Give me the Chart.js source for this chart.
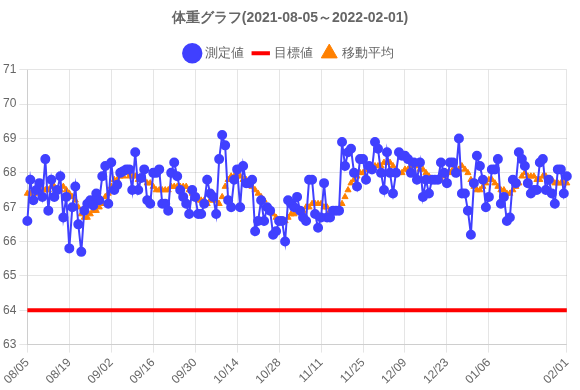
<!DOCTYPE html>
<html>
<head>
<meta charset="utf-8">
<script src="https://cdn.jsdelivr.net/npm/chart.js@4/dist/chart.umd.min.js"></script>
<style>
  body { margin: 0; background: #fff; }
  #wrap { width: 580px; height: 390px; }
</style>
</head>
<body>
<div id="wrap"><canvas id="myChart"></canvas></div>
<script>
// period of the graph
const startDate = '2021-08-05';
const endDate = '2022-02-01';

const measured = [
	66.6, 67.8, 67.2, 67.5, 67.7, 67.3, 68.4, 66.9, 67.8, 67.3,
	67.5, 67.9, 66.7, 67.3, 65.8, 67.0, 67.6, 66.5, 65.7, 66.9,
	67.1, 67.2, 67.05, 67.4, 67.2, 67.9, 68.2, 67.1, 68.3, 67.5,
	67.65, 68.0, 68.05, 68.1, 68.1, 67.5, 68.6, 67.5, 67.85, 68.1,
	67.2, 67.1, 68.0, 68.0, 68.1, 67.1, 67.1, 66.9, 68.0, 68.3,
	67.9, 67.5, 67.3, 67.1, 66.8, 67.5, 67.3, 66.8, 66.8, 67.1,
	67.8, 67.4, 67.3, 66.8, 68.4, 69.1, 68.8, 67.2, 67.0, 67.8,
	68.1, 67.0, 68.2, 67.7, 67.7, 67.8, 66.3, 66.6, 67.2, 66.6,
	67.0, 66.9, 66.2, 66.3, 66.6, 66.6, 66.0, 67.2, 67.1, 67.0,
	67.3, 66.9, 66.7, 66.6, 67.8, 67.8, 66.8, 66.4, 66.7, 67.7,
	66.7, 66.7, 66.9, 66.9, 66.9, 68.9, 68.2, 68.6, 68.7, 68.0,
	67.6, 68.4, 68.4, 67.8, 68.2, 68.1, 68.9, 68.7, 68.0, 67.5,
	68.6, 68.0, 67.4, 68.0, 68.6, 68.5, 68.5, 68.4, 68.0, 68.3,
	67.8, 68.3, 67.3, 67.8, 67.4, 67.8, 67.8, 67.8, 68.3, 68.0,
	67.7, 68.3, 68.3, 68.0, 69.0, 67.4, 67.4, 66.9, 66.2, 67.7,
	68.5, 68.2, 67.8, 67.0, 67.3, 68.1, 68.1, 68.4, 67.1, 67.3,
	66.6, 66.7, 67.8, 67.7, 68.6, 68.4, 68.2, 67.7, 67.4, 67.5,
	67.5, 68.3, 68.4, 67.5, 67.8, 67.4, 67.1, 68.1, 68.1, 67.4,
	67.9
];

// 移動平均 (orange triangles)
const movingAvg = [
	67.4, 67.4, 67.4, 67.4, 67.5, 67.5, 67.5,
	67.5, 67.6, 67.6, 67.5, 67.5, 67.6, 67.5,
	67.4, 67.3, 67.2, 67.0, 66.8, 66.7, 66.7,
	66.8, 66.9, 66.9, 67.0, 67.1, 67.3, 67.4,
	67.6, 67.8, 67.8, 67.9, 67.9, 68.0, 67.9,
	67.9, 67.9, 67.8, 67.8, 67.8, 67.7, 67.7,
	67.6, 67.5, 67.5, 67.5, 67.5, 67.5, 67.6,
	67.6, 67.6, 67.6, 67.6, 67.6, 67.5, 67.4,
	67.3, 67.2, 67.2, 67.2, 67.1, 67.2, 67.2,
	67.2, 67.1, 67.3, 67.6, 67.8, 67.9, 67.9,
	67.9, 67.9, 67.8, 67.8, 67.7, 67.6, 67.5,
	67.4, 67.3, 67.2, 67.0, 66.9, 66.8, 66.7,
	66.6, 66.6, 66.6, 66.7, 66.8, 66.8, 66.9,
	66.9, 66.9, 67.0, 67.0, 67.1, 67.1, 67.1,
	67.1, 67.0, 67.0, 66.9, 66.9, 66.9, 66.9,
	67.1, 67.3, 67.5, 67.7, 67.8, 67.9, 68.0,
	68.0, 68.1, 68.1, 68.1, 68.2, 68.2, 68.2,
	68.3, 68.3, 68.3, 68.2, 68.1, 68.0, 68.0,
	68.1, 68.1, 68.2, 68.2, 68.2, 68.1, 68.1,
	68.0, 67.9, 67.8, 67.8, 67.8, 67.8, 67.9,
	68.0, 68.0, 68.1, 68.1, 68.1, 68.2, 68.1,
	68.0, 67.8, 67.6, 67.5, 67.5, 67.6, 67.7,
	67.8, 67.8, 67.7, 67.6, 67.5, 67.5, 67.4,
	67.4, 67.5, 67.6, 67.7, 67.9, 68.0, 67.9,
	67.9, 67.9, 67.8, 67.8, 67.9, 67.9, 67.8,
	67.8, 67.7, 67.7, 67.7, 67.7, 67.7
];

// 目標値
const targetWeight = 64;

// daily labels MM/DD
const labels = [];
let d = new Date(startDate + 'T00:00:00');
const last = new Date(endDate + 'T00:00:00');
while (d <= last) {
	const mm = String(d.getMonth() + 1).padStart(2, '0');
	const dd = String(d.getDate()).padStart(2, '0');
	labels.push(mm + '/' + dd);
	d.setDate(d.getDate() + 1);
}
const target = labels.map(() => targetWeight);

const ctx = document.getElementById('myChart');
const myChart = new Chart(ctx, {
	type: 'line',
	data: {
		labels: labels,
		datasets: [
			{
				label: '測定値',
				data: measured,
				borderColor: 'rgb(64, 64, 255)',
				backgroundColor: 'rgb(64, 64, 255)',
				borderWidth: 2,
				pointRadius: 4,
				pointStyle: 'circle',
				tension: 0
			},
			{
				label: '目標値',
				data: target,
				borderColor: 'rgb(255, 0, 0)',
				backgroundColor: 'rgb(255, 0, 0)',
				borderWidth: 4,
				pointRadius: 0,
				pointStyle: 'line'
			},
			{
				label: '移動平均',
				data: movingAvg,
				borderColor: 'rgb(255, 128, 0)',
				backgroundColor: 'rgb(255, 128, 0)',
				showLine: false,
				pointRadius: 3.5,
				pointStyle: 'triangle'
			}
		]
	},
	options: {
		responsive: true,
		maintainAspectRatio: false,
		animation: false,
		plugins: {
			title: {
				display: true,
				text: '体重グラフ(' + startDate + '～' + endDate + ')',
				color: '#666',
				font: { size: 14, weight: 'bold' }
			},
			legend: {
				labels: {
					usePointStyle: true,
					color: '#666',
					font: { size: 13 }
				}
			},
			tooltip: { enabled: false }
		},
		scales: {
			x: {
				ticks: {
					autoSkip: false,
					maxRotation: 45,
					minRotation: 45,
					color: '#666',
					callback: function (value, index) {
						if (index === labels.length - 1) return labels[index];
						if (index % 14 === 0 && index < labels.length - 14) return labels[index];
						return null;
					}
				},
				grid: { color: 'rgba(0, 0, 0, 0.1)' }
			},
			y: {
				min: 63,
				max: 71,
				ticks: { stepSize: 1, color: '#666' },
				grid: { color: 'rgba(0, 0, 0, 0.1)' }
			}
		}
	}
});
</script>
</body>
</html>
